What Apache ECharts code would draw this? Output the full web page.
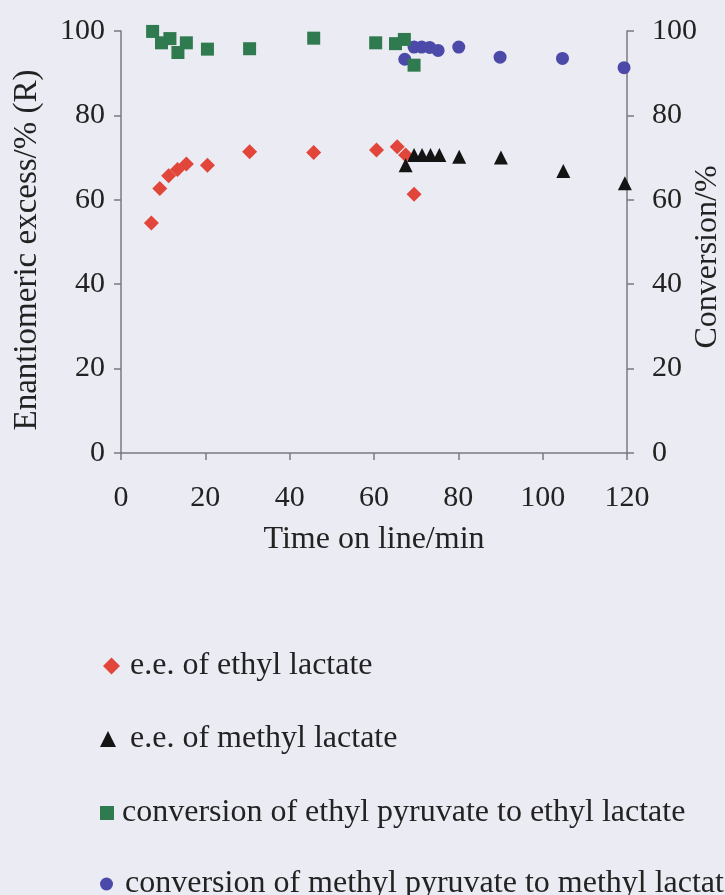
<!DOCTYPE html>
<html>
<head>
<meta charset="utf-8">
<script src="https://cdn.jsdelivr.net/npm/echarts@6/dist/echarts.min.js"></script>
<style>
html,body{margin:0;padding:0;background:#ebebf3;}
#chart{width:725px;height:895px;}
</style>
</head>
<body>
<div id="chart"></div>
<script>
// Time on line (min) and values
var eeEthylTime = [7.2, 9.2, 11.3, 13.4, 15.5, 20.5, 30.5, 45.7, 60.6, 65.5, 67.5, 69.5];
var eeEthyl     = [54.5, 62.7, 65.7, 67.2, 68.5, 68.2, 71.4, 71.2, 71.8, 72.6, 70.6, 61.3];

var eeMethylTime = [67.5, 69.5, 71.4, 73.4, 75.5, 80.2, 90.1, 104.9, 119.5];
var eeMethyl     = [68.2, 70.6, 70.6, 70.6, 70.6, 70.2, 70.0, 66.8, 63.9];

var convEthylTime = [7.5, 9.6, 11.6, 13.5, 15.5, 20.5, 30.5, 45.7, 60.4, 65.1, 67.2, 69.5];
var convEthyl     = [99.9, 97.2, 98.2, 94.9, 97.2, 95.7, 95.8, 98.3, 97.2, 97.0, 98.0, 91.9];

var convMethylTime = [67.3, 69.5, 71.3, 73.2, 75.2, 80.1, 89.9, 104.7, 119.3];
var convMethyl     = [93.3, 96.2, 96.2, 96.1, 95.4, 96.2, 93.8, 93.5, 91.3];

var seriesNames = [
  'e.e. of ethyl lactate',
  'e.e. of methyl lactate',
  'conversion of ethyl pyruvate to ethyl lactate',
  'conversion of methyl pyruvate to methyl lactate'
];

function pairs(xs, ys){ return xs.map(function(x,i){ return [x, ys[i]]; }); }

var font = 'Liberation Serif';
var axisColor = '#7a7a80';
var textColor = '#222';

function yAxisCommon(pos, margin, gap, nameSize, namePad){
  return {
    type:'value', position:pos, min:0, max:100, interval:20,
    name: pos==='left' ? 'Enantiomeric excess/% (R)' : 'Conversion/%',
    nameLocation:'middle', nameGap:gap, nameMoveOverlap:false,
    nameTextStyle:{fontFamily:font, fontSize:nameSize, color:textColor, padding:namePad},
    axisLine:{show:true, lineStyle:{color:axisColor, width:1.5}},
    axisTick:{show:true, inside:false, length:7, lineStyle:{color:axisColor, width:1.5}},
    axisLabel:{fontFamily:font, fontSize:30, color:textColor, margin:margin},
    splitLine:{show:false}
  };
}

function legendFor(i, left, top, icon, size, pad){
  return {
    data:[{name:seriesNames[i], icon:icon}],
    left:left, top:top, padding:0, itemWidth:size, itemHeight:size, itemGap:0,
    selectedMode:false,
    textStyle:{fontFamily:font, fontSize:32, color:textColor, padding:[0,0,0,pad]}
  };
}

var chart = echarts.init(document.getElementById('chart'), null, {renderer:'canvas'});
chart.setOption({
  backgroundColor:'#ebebf3',
  animation:false,
  grid:{left:121, right:98, top:31, bottom:442, containLabel:false, outerBoundsMode:'none'},
  xAxis:{
    type:'value', min:0, max:120, interval:20,
    name:'Time on line/min', nameLocation:'middle', nameGap:71,
    nameTextStyle:{fontFamily:font, fontSize:32, color:textColor},
    axisLine:{show:true, lineStyle:{color:axisColor, width:1.5}},
    axisTick:{show:true, inside:false, length:7, lineStyle:{color:axisColor, width:1.5}},
    axisLabel:{fontFamily:font, fontSize:30, color:textColor, margin:30},
    splitLine:{show:false}
  },
  yAxis:[
    yAxisCommon('left', 16, 77, 33, [0,16,0,0]),
    yAxisCommon('right', 25, 65, 32, [0,30,0,0])
  ],
  legend:[
    legendFor(0, 103, 650, 'diamond', 17, 5),
    legendFor(1, 100, 723, 'triangle', 16, 9),
    legendFor(2, 100, 797, 'rect', 14, 3),
    legendFor(3, 100, 868, 'circle', 13, 7)
  ],
  series:[
    {name:seriesNames[0], type:'scatter', yAxisIndex:0, symbol:'diamond', symbolSize:15, z:1,
     itemStyle:{color:'#e2463a', opacity:1}, data:pairs(eeEthylTime, eeEthyl)},
    {name:seriesNames[1], type:'scatter', yAxisIndex:0, symbol:'triangle', symbolSize:14, z:2,
     itemStyle:{color:'#141414', opacity:1}, data:pairs(eeMethylTime, eeMethyl)},
    {name:seriesNames[3], type:'scatter', yAxisIndex:1, symbol:'circle', symbolSize:13, z:3,
     itemStyle:{color:'#4b4aa8', opacity:1}, data:pairs(convMethylTime, convMethyl)},
    {name:seriesNames[2], type:'scatter', yAxisIndex:1, symbol:'rect', symbolSize:13, z:4,
     itemStyle:{color:'#2f7a4e', opacity:1}, data:pairs(convEthylTime, convEthyl)}
  ]
});
</script>
</body>
</html>
